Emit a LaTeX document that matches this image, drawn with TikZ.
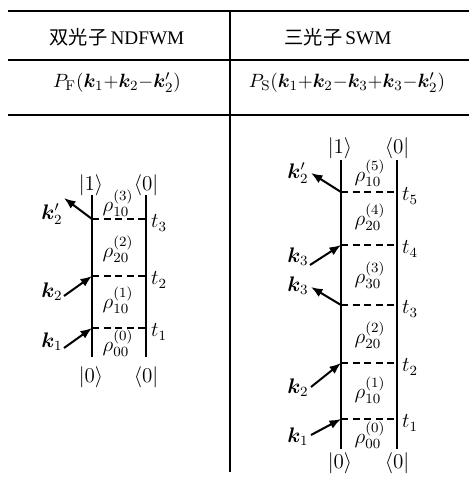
\RequirePackage{fix-cm}
\documentclass[11pt,tikz,border=0pt]{standalone}
\usepackage{amsmath,bm}
\usepackage[no-math]{fontspec}
\setmainfont{Liberation Serif}
\newfontfamily\cjk{Noto Sans CJK SC}
\usetikzlibrary{arrows.meta,positioning}
\tikzset{
  rule/.style={line width=0.6pt},
  wall/.style={line width=1.1pt},
  slice/.style={line width=0.9pt, dash pattern=on 4pt off 2.6pt},
  arr/.style={-{Latex[length=2.3mm,width=1.8mm]}, line width=1.15pt},
  lab/.style={inner sep=1pt},
  dlab/.style={inner sep=1pt, font=\fontsize{12}{14}\selectfont},
  ket/.style={dlab, anchor=base},
  tlab/.style={dlab, anchor=west},
}

\begin{document}
\begin{tikzpicture}[x=0.02cm, y=-0.02cm]
    \useasboundingbox (0,0) rectangle (469,478);
    % table
    \coordinate (r1w) at (8,11);   \coordinate (r1e) at (469,11);
    \coordinate (r2w) at (8,60);   \coordinate (r2e) at (469,60);
    \coordinate (r3w) at (8,115);  \coordinate (r3e) at (469,115);
    \coordinate (divT) at (230,11); \coordinate (divB) at (230,472);
    \draw[rule] (r1w) -- (r1e);
    \draw[rule] (r2w) -- (r2e);
    \draw[rule] (r3w) -- (r3e);
    \draw[rule] (divT) -- (divB);
    \node[lab] (headF) at (117,37) {{\cjk 双光子}\,NDFWM};
    \node[lab] (headS) at (338,37) {{\cjk 三光子}\,SWM};
    \node[lab] (polF) at (117,83) {$P_{\mathrm{F}}(\bm{k}_1{+}\bm{k}_2{-}\bm{k}'_2)$};
    \node[lab] (polS) at (347,83) {$P_{\mathrm{S}}(\bm{k}_1{+}\bm{k}_2{-}\bm{k}_3{+}\bm{k}_3{-}\bm{k}'_2)$};

    % two-photon diagram
    \coordinate (aT) at (92,195);  \coordinate (aB) at (92,357);
    \coordinate (bT) at (146,195); \coordinate (bB) at (146,357);
    \draw[wall] (aT) -- (aB);
    \draw[wall] (bT) -- (bB);
    \node[ket] (ketF1) at (91,190) {$|1\rangle$};
    \node[ket] (braF1) at (146,190) {$\langle0|$};
    \node[ket] (ketF0) at (91,382) {$|0\rangle$};
    \node[ket] (braF0) at (146,382) {$\langle0|$};
    \foreach \n/\y in {1/328,2/276,3/219} {
      \coordinate (a\n) at (92,\y);
      \coordinate (b\n) at (146,\y);
      \draw[slice] (a\n) -- (b\n);
      \node[tlab] (tF\n) at (149,\y+4) {$t_\n$};
    }
    \node[dlab] (rhoF0) at (118,343) {$\rho^{(0)}_{00}$};
    \node[dlab] (rhoF1) at (118,300) {$\rho^{(1)}_{10}$};
    \node[dlab] (rhoF2) at (118,249) {$\rho^{(2)}_{20}$};
    \node[dlab] (rhoF3) at (118,203) {$\rho^{(3)}_{10}$};
    \coordinate (kF1s) at (64,348);
    \coordinate (kF2s) at (64,296);
    \coordinate (kF3e) at (64,198);
    \draw[arr] (kF1s) -- (a1);
    \draw[arr] (kF2s) -- (a2);
    \draw[arr] (a3) -- (kF3e);
    \node[dlab] (kF1) at (52,342) {$\bm{k}_1$};
    \node[dlab] (kF2) at (52,292) {$\bm{k}_2$};
    \node[dlab] (kF3) at (52,214) {$\bm{k}'_2$};

    % three-photon diagram
    \coordinate (cT) at (341,160); \coordinate (cB) at (341,449);
    \coordinate (dT) at (397,160); \coordinate (dB) at (397,449);
    \draw[wall] (cT) -- (cB);
    \draw[wall] (dT) -- (dB);
    \node[ket] (ketS1) at (340,153) {$|1\rangle$};
    \node[ket] (braS1) at (397,153) {$\langle0|$};
    \node[ket] (ketS0) at (340,468) {$|0\rangle$};
    \node[ket] (braS0) at (397,468) {$\langle0|$};
    \foreach \n/\y in {1/419,2/363,3/305,4/245,5/192} {
      \coordinate (c\n) at (341,\y);
      \coordinate (d\n) at (397,\y);
      \draw[slice] (c\n) -- (d\n);
      \node[tlab] (tS\n) at (400,\y+4) {$t_\n$};
    }
    \node[dlab] (rhoS0) at (370,435) {$\rho^{(0)}_{00}$};
    \node[dlab] (rhoS1) at (370,390) {$\rho^{(1)}_{10}$};
    \node[dlab] (rhoS2) at (370,335) {$\rho^{(2)}_{20}$};
    \node[dlab] (rhoS3) at (370,275) {$\rho^{(3)}_{30}$};
    \node[dlab] (rhoS4) at (370,217) {$\rho^{(4)}_{20}$};
    \node[dlab] (rhoS5) at (370,173) {$\rho^{(5)}_{10}$};
    \coordinate (kS1s) at (311,435);
    \coordinate (kS2s) at (311,387);
    \coordinate (kS3e) at (311,287);
    \coordinate (kS4s) at (310,265);
    \coordinate (kS5e) at (311,173);
    \draw[arr] (kS1s) -- (c1);
    \draw[arr] (kS2s) -- (c2);
    \draw[arr] (c3) -- (kS3e);
    \draw[arr] (kS4s) -- (c4);
    \draw[arr] (c5) -- (kS5e);
    \node[dlab] (kS1) at (298,437) {$\bm{k}_1$};
    \node[dlab] (kS2) at (298,388) {$\bm{k}_2$};
    \node[dlab] (kS3) at (298,286) {$\bm{k}_3$};
    \node[dlab] (kS4) at (298,257) {$\bm{k}_3$};
    \node[dlab] (kS5) at (298,173) {$\bm{k}'_2$};
  \end{tikzpicture}
\end{document}
